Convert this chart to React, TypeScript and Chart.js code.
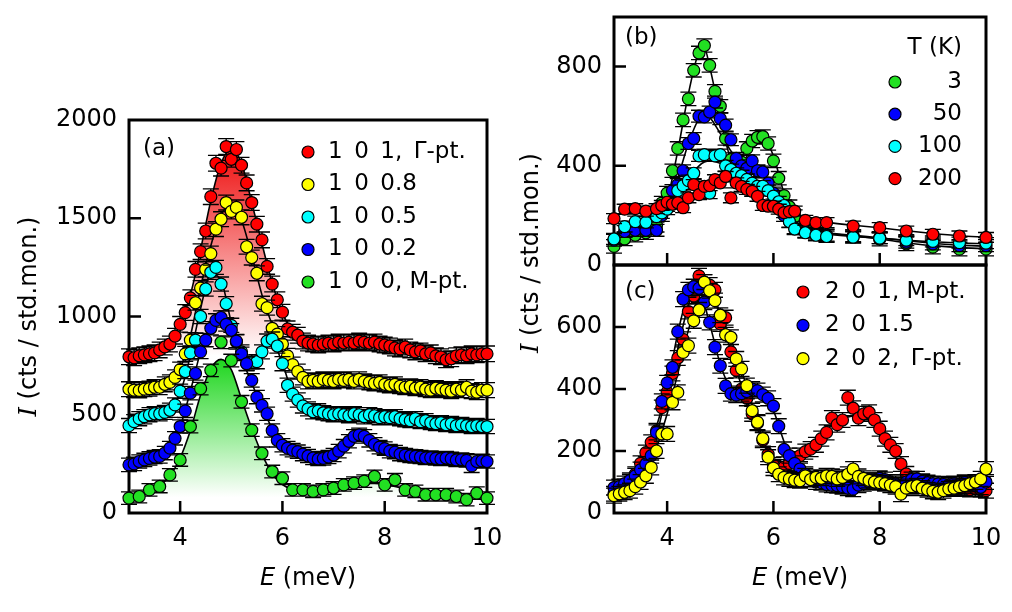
import React, { useEffect, useRef } from 'react';
import { Chart, registerables } from 'chart.js';

Chart.register(...registerables);

const FONT = '"DejaVu Sans", Verdana, sans-serif';
const TICK_FONT = 24;
const TEXT_FONT = 23;
const TITLE_FONT = 24;

// ---------- energy grids (meV) ----------
const E_FINE = [3.0, 3.1, 3.2, 3.3, 3.4, 3.5, 3.6, 3.7, 3.8, 3.9, 4.0, 4.1, 4.2, 4.3, 4.4, 4.5, 4.6, 4.7, 4.8, 4.9,
  5.0, 5.1, 5.2, 5.3, 5.4, 5.5, 5.6, 5.7, 5.8, 5.9, 6.0, 6.1, 6.2, 6.3, 6.4, 6.5, 6.6, 6.7, 6.8, 6.9,
  7.0, 7.1, 7.2, 7.3, 7.4, 7.5, 7.6, 7.7, 7.8, 7.9, 8.0, 8.1, 8.2, 8.3, 8.4, 8.5, 8.6, 8.7, 8.8, 8.9,
  9.0, 9.1, 9.2, 9.3, 9.4, 9.5, 9.6, 9.7, 9.8, 9.9, 10.0];
const E_COARSE = [3.0, 3.2, 3.4, 3.6, 3.8, 4.0, 4.2, 4.4, 4.6, 4.8, 5.0, 5.2, 5.4, 5.6, 5.8, 6.0, 6.2, 6.4, 6.6, 6.8,
  7.0, 7.2, 7.4, 7.6, 7.8, 8.0, 8.2, 8.4, 8.6, 8.8, 9.0, 9.2, 9.4, 9.6, 9.8, 10.0];
const E_TEMP = [3.0, 3.2, 3.4, 3.6, 3.8, 3.9, 4.0, 4.1, 4.2, 4.3, 4.4, 4.5, 4.6, 4.7, 4.8, 4.9, 5.0, 5.1, 5.2, 5.3,
  5.4, 5.5, 5.6, 5.7, 5.8, 5.9, 6.0, 6.1, 6.2, 6.3, 6.4, 6.6, 6.8, 7.0, 7.5, 8.0, 8.5, 9.0, 9.5, 10.0];
const E_TEMP_FIT = [3.0, 3.5, 3.8, 4.0, 4.2, 4.4, 4.6, 4.7, 4.8, 5.0, 5.2, 5.4, 5.6, 5.8, 6.0, 6.2, 6.4, 6.6, 7.0,
  7.5, 8.0, 8.5, 9.0, 9.5, 10.0];

const X_TICKS = [4, 6, 8, 10];

// ---------- panel (a): (1 0 L) scans ----------
const A_Y_TICKS = [0, 500, 1000, 1500, 2000];
const A_LABELS = ['1\u20020\u20021,\u2002Γ-pt.', '1\u20020\u20020.8', '1\u20020\u20020.5', '1\u20020\u20020.2', '1\u20020\u20020, M-pt.'];
const A_COLORS = ['#ff0000', '#ffff00', '#00ffff', '#0000ff', '#22e022'];
const A_ERR = [40, 38, 36, 34, 32];

const A_L10 = [795, 790, 800, 805, 810, 815, 830, 845, 860, 900, 960, 1020, 1095, 1240, 1330, 1435, 1610, 1780, 1755, 1865,
  1800, 1850, 1770, 1680, 1580, 1470, 1390, 1255, 1165, 1085, 1022, 937, 920, 905, 875, 865, 860, 855, 860, 865,
  860, 870, 865, 870, 865, 875, 870, 865, 870, 860, 855, 850, 840, 835, 845, 830, 820, 825, 810, 815,
  800, 795, 780, 785, 800, 805, 800, 810, 805, 810, 810];
const A_L08 = [630, 625, 624, 630, 633, 640, 640, 655, 665, 690, 730, 810, 880, 1070, 1145, 1240, 1320, 1445, 1495, 1580,
  1535, 1555, 1505, 1355, 1300, 1220, 1065, 1045, 940, 910, 860, 800, 755, 720, 690, 670, 675, 670, 680, 675,
  670, 680, 675, 680, 670, 680, 670, 665, 660, 665, 655, 650, 655, 645, 640, 645, 635, 640, 630, 625,
  635, 630, 625, 620, 630, 625, 640, 620, 615, 625, 625];
const A_L05 = [445, 465, 480, 490, 500, 505, 505, 512, 523, 550, 620, 720, 815, 880, 1000, 1140, 1225, 1250, 1165, 1065,
  955, 870, 820, 760, 768, 770, 820, 875, 885, 850, 760, 650, 605, 575, 545, 530, 515, 520, 510, 505,
  500, 505, 500, 495, 505, 500, 490, 500, 495, 485, 490, 485, 490, 480, 475, 470, 480, 465, 470, 460,
  455, 460, 450, 455, 445, 450, 445, 440, 445, 440, 440];
const A_L02 = [245, 250, 262, 270, 278, 285, 288, 305, 330, 380, 440, 520, 610, 710, 820, 880, 940, 980, 995, 960,
  930, 875, 810, 760, 675, 590, 548, 505, 420, 370, 345, 330, 320, 312, 300, 290, 280, 275, 278, 285,
  295, 315, 340, 365, 390, 398, 390, 370, 350, 335, 328, 315, 310, 300, 295, 290, 288, 285, 280, 282,
  278, 275, 280, 276, 270, 272, 268, 240, 262, 265, 262];
const A_L00 = [76, 84, 118, 135, 194, 270, 440, 633, 726, 869, 776, 566, 422, 304, 211, 177, 118, 118, 110, 118,
  127, 143, 152, 162, 186, 143, 169, 118, 110, 93, 93, 93, 84, 68, 101, 76];

const A_FIT_L10 = [795, 800, 810, 828, 868, 960, 1110, 1340, 1590, 1780, 1850, 1780, 1580, 1370, 1170, 1020, 920, 878, 866, 864,
  864, 866, 868, 868, 864, 856, 845, 835, 824, 814, 806, 800, 798, 800, 803, 806];
const A_FIT_L08 = [628, 628, 632, 642, 668, 735, 900, 1150, 1360, 1520, 1560, 1490, 1310, 1110, 960, 860, 770, 705, 680, 675,
  674, 673, 672, 670, 665, 658, 651, 644, 638, 633, 630, 627, 625, 624, 623, 623];
const A_FIT_L05 = [450, 475, 495, 508, 530, 610, 800, 1040, 1215, 1185, 970, 820, 770, 815, 870, 760, 610, 550, 520, 510,
  505, 502, 500, 497, 493, 488, 483, 477, 471, 465, 459, 454, 449, 445, 442, 440];
const A_FIT_L02 = [245, 258, 272, 292, 335, 440, 620, 820, 950, 985, 920, 790, 660, 540, 430, 355, 315, 295, 283, 285,
  305, 345, 390, 392, 355, 325, 305, 295, 288, 283, 279, 276, 273, 270, 267, 265];
const A_FIT_L00 = [72, 90, 110, 140, 190, 280, 420, 600, 735, 782, 730, 580, 430, 300, 200, 145, 120, 115, 115, 118,
  125, 135, 145, 150, 150, 145, 135, 120, 108, 98, 92, 88, 84, 80, 78, 76];

// shaded peak components: intensity at full colour (from) fading to white (to)
const A_RED_SHADE = { base: 790, from: 1850, to: 800, color: 'rgb(238,16,16)' };
const A_GREEN_SHADE = { base: 0, from: 782, to: 80, color: 'rgb(30,214,30)' };

// ---------- panel (b): temperature dependence ----------
const B_Y_TICKS = [0, 400, 800];
const B_LABELS = ['3', '50', '100', '200'];
const B_COLORS = ['#22e022', '#0000ff', '#00ffff', '#ff0000'];
const B_ERR = [27, 24, 22, 20];

const B_T3 = [75, 105, 120, 130, 160, 250, 290, 380, 470, 585, 670, 785, 855, 885, 805, 700, 640, 510, 425, 420,
  415, 470, 500, 515, 518, 490, 420, 350, 280, 235, 195, 150, 125, 118, 115, 104, 85, 72, 64, 64];
const B_T50 = [100, 135, 140, 140, 140, 200, 240, 300, 324, 380, 490, 510, 600, 597, 617, 657, 590, 564, 505, 430,
  400, 390, 420, 380, 375, 330, 290, 240, 200, 175, 150, 135, 125, 120, 118, 110, 92, 85, 78, 78];
const B_T100 = [105, 155, 175, 172, 195, 210, 225, 250, 300, 320, 340, 370, 440, 445, 290, 440, 445, 400, 385, 370,
  360, 345, 330, 318, 318, 300, 278, 255, 240, 175, 145, 130, 120, 115, 112, 108, 100, 95, 90, 88];
const B_T200 = [187, 225, 227, 217, 227, 240, 253, 245, 251, 231, 271, 324, 284, 317, 320, 344, 331, 357, 271, 331,
  317, 305, 297, 277, 240, 237, 237, 225, 211, 215, 217, 180, 171, 171, 157, 151, 137, 124, 117, 111];

const B_FIT_T3 = [75, 125, 150, 260, 460, 690, 860, 875, 800, 600, 430, 410, 480, 510, 440, 290, 200, 160, 130, 118, 105, 90, 78, 70, 66];
const B_FIT_T50 = [95, 135, 150, 230, 350, 490, 590, 605, 595, 530, 460, 410, 395, 360, 290, 210, 165, 145, 130, 120, 110, 98, 88, 80, 76];
const B_FIT_T100 = [100, 165, 190, 230, 290, 350, 400, 415, 420, 410, 385, 360, 335, 310, 275, 225, 175, 145, 125, 115, 108, 100, 94, 89, 86];
const B_FIT_T200 = [200, 220, 228, 235, 250, 275, 300, 312, 325, 340, 335, 320, 295, 265, 240, 215, 198, 185, 172, 160, 150, 138, 127, 118, 112];

// ---------- panel (c): (2 0 L) scans ----------
const C_Y_TICKS = [0, 200, 400, 600];
const C_LABELS = ['2\u20020\u20021, M-pt.', '2\u20020\u20021.5', '2\u20020\u20022,\u2002Γ-pt.'];
const C_COLORS = ['#ff0000', '#0000ff', '#ffff00'];
const C_ERR = [24, 24, 24];

const C_L10 = [62, 72, 85, 100, 125, 160, 195, 228, 265, 340, 390, 450, 500, 560, 650, 700, 765, 745, 735, 720,
  610, 630, 520, 460, 400, 370, 320, 290, 235, 190, 155, 142, 148, 160, 174, 185, 198, 206, 220, 240,
  260, 306, 285, 300, 372, 338, 306, 320, 325, 300, 272, 240, 220, 200, 158, 126, 110, 95, 90, 88,
  85, 82, 86, 80, 82, 78, 80, 76, 78, 75, 72];
const C_L15 = [82, 85, 95, 105, 120, 140, 158, 185, 260, 360, 420, 470, 585, 690, 720, 730, 725, 680, 615, 535,
  475, 410, 385, 380, 385, 392, 400, 395, 382, 370, 345, 280, 205, 185, 160, 142, 125, 110, 100, 98,
  92, 90, 88, 85, 80, 77, 90, 95, 100, 105, 112, 108, 100, 95, 90, 100, 108, 110, 102, 98,
  95, 94, 92, 90, 95, 92, 99, 95, 88, 83, 100];
const C_L20 = [56, 62, 67, 72, 85, 100, 120, 147, 200, 255, 255, 357, 389, 518, 540, 620, 655, 745, 717, 685,
  638, 575, 567, 497, 465, 411, 330, 293, 240, 180, 145, 125, 115, 110, 106, 104, 120, 108, 115, 112,
  120, 118, 110, 115, 125, 142, 118, 112, 105, 100, 98, 95, 90, 85, 61, 80, 85, 88, 80, 75,
  70, 67, 72, 78, 80, 85, 88, 95, 100, 110, 142];

const C_FIT_L10 = [62, 82, 120, 190, 280, 400, 530, 670, 735, 730, 640, 520, 410, 320, 230, 170, 150, 170, 200, 235,
  270, 295, 310, 315, 300, 265, 210, 150, 110, 92, 86, 82, 80, 78, 76, 75];
const C_FIT_L15 = [75, 92, 120, 165, 250, 400, 580, 700, 715, 610, 480, 400, 385, 390, 380, 330, 230, 155, 115, 100,
  94, 92, 92, 93, 95, 97, 98, 97, 95, 94, 93, 92, 92, 92, 92, 93];
const C_FIT_L20 = [58, 72, 95, 130, 210, 320, 450, 590, 690, 700, 640, 560, 460, 350, 240, 165, 125, 110, 106, 104,
  103, 102, 100, 98, 95, 92, 89, 86, 84, 82, 80, 80, 80, 80, 80, 80];

// ---------- drawing helpers ----------
type Shade = { base: number; from: number; to: number; color: string };
type Series = {
  label: string; color: string; err: number;
  x: number[]; y: number[]; fitX: number[]; fitY: number[]; shade?: Shade;
};
type Box = { left: number; top: number; right: number; bottom: number };
type Panel = {
  left: number; top: number; w: number; h: number;
  padTop: number; padRight: number; yAxisW: number; xAxisH: number;
  yMax: number; yTicks: number[]; xLabels: boolean;
  series: Series[];
  decorate: (ctx: CanvasRenderingContext2D, a: Box, p: Panel) => void;
};

const CAP = 8;
const TICK_LEN = 12;
const MARK_R = 6;

function marker(ctx: CanvasRenderingContext2D, x: number, y: number, color: string) {
  ctx.beginPath();
  ctx.arc(x, y, MARK_R, 0, Math.PI * 2);
  ctx.fillStyle = color;
  ctx.fill();
  ctx.lineWidth = 1.2;
  ctx.strokeStyle = '#000';
  ctx.stroke();
}

function text(ctx: CanvasRenderingContext2D, s: string, x: number, y: number, align: CanvasTextAlign = 'left', size = TEXT_FONT) {
  ctx.font = `${size}px ${FONT}`;
  ctx.fillStyle = '#000';
  ctx.textAlign = align;
  ctx.textBaseline = 'middle';
  ctx.fillText(s, x, y);
}

// axis title: italic symbol followed by upright text, centred on (x, y)
function axisTitle(ctx: CanvasRenderingContext2D, sym: string, symFont: string, rest: string, x: number, y: number, vertical: boolean) {
  const restFont = `${TITLE_FONT}px ${FONT}`;
  ctx.save();
  ctx.translate(x, y);
  if (vertical) ctx.rotate(-Math.PI / 2);
  ctx.font = symFont;
  const w1 = ctx.measureText(sym).width;
  ctx.font = restFont;
  const w2 = ctx.measureText(rest).width;
  let cx = -(w1 + w2) / 2;
  ctx.fillStyle = '#000';
  ctx.textAlign = 'left';
  ctx.textBaseline = 'middle';
  ctx.font = symFont;
  ctx.fillText(sym, cx, 0);
  cx += w1;
  ctx.font = restFont;
  ctx.fillText(rest, cx, 0);
  ctx.restore();
}

const errorBars = {
  id: 'errorBars',
  beforeDatasetDraw(chart: any, args: any) {
    const ds = chart.data.datasets[args.index];
    if (!ds.errorBar) return;
    const ctx: CanvasRenderingContext2D = chart.ctx;
    const ys = chart.scales.y;
    ctx.save();
    ctx.strokeStyle = '#000';
    ctx.lineWidth = 1.3;
    ctx.beginPath();
    args.meta.data.forEach((el: any, i: number) => {
      const v = ds.data[i].y;
      const px = el.x;
      const t = ys.getPixelForValue(v + ds.errorBar);
      const b = ys.getPixelForValue(v - ds.errorBar);
      ctx.moveTo(px, t); ctx.lineTo(px, b);
      ctx.moveTo(px - CAP, t); ctx.lineTo(px + CAP, t);
      ctx.moveTo(px - CAP, b); ctx.lineTo(px + CAP, b);
    });
    ctx.stroke();
    ctx.restore();
  },
};

function shadeFill(chart: any, s: Shade) {
  if (!chart.chartArea) return 'rgba(0,0,0,0)';
  const y = chart.scales.y;
  const g = chart.ctx.createLinearGradient(0, y.getPixelForValue(s.from), 0, y.getPixelForValue(s.to));
  g.addColorStop(0, s.color);
  g.addColorStop(1, 'rgb(255,255,255)');
  return g;
}

function buildConfig(p: Panel): any {
  const n = p.series.length;
  const datasets: any[] = [];
  p.series.forEach((s, i) => {
    datasets.push({
      type: 'line',
      data: s.fitX.map((x, k) => ({ x, y: s.fitY[k] })),
      borderColor: '#000',
      borderWidth: 1.6,
      pointRadius: 0,
      cubicInterpolationMode: 'monotone',
      fill: s.shade ? { value: s.shade.base } : false,
      backgroundColor: s.shade ? (c: any) => shadeFill(c.chart, s.shade as Shade) : 'rgba(0,0,0,0)',
      order: 100 + n - i,
    });
    datasets.push({
      type: 'line',
      showLine: false,
      data: s.x.map((x, k) => ({ x, y: s.y[k] })),
      pointRadius: MARK_R,
      pointBackgroundColor: s.color,
      pointBorderColor: '#000',
      pointBorderWidth: 1.2,
      errorBar: s.err,
      clip: false,
      order: n - 1 - i,
    });
  });

  const frame = {
    id: 'frame',
    beforeDatasetsDraw(chart: any) {
      const ctx: CanvasRenderingContext2D = chart.ctx;
      const a = chart.chartArea;
      const sx = chart.scales.x;
      const sy = chart.scales.y;
      ctx.save();
      ctx.strokeStyle = '#000';
      ctx.lineWidth = 2.5;
      ctx.beginPath();
      sx.ticks.forEach((t: any) => {
        const px = sx.getPixelForValue(t.value);
        if (px < a.left + 2 || px > a.right - 2) return;
        ctx.moveTo(px, a.bottom); ctx.lineTo(px, a.bottom - TICK_LEN);
      });
      sy.ticks.forEach((t: any) => {
        const py = sy.getPixelForValue(t.value);
        if (py < a.top + 2 || py > a.bottom - 2) return;
        ctx.moveTo(a.left, py); ctx.lineTo(a.left + TICK_LEN, py);
      });
      ctx.stroke();
      ctx.lineWidth = 3;
      ctx.strokeRect(a.left, a.top, a.right - a.left, a.bottom - a.top);
      ctx.restore();
    },
    afterDraw(chart: any) {
      const ctx: CanvasRenderingContext2D = chart.ctx;
      ctx.save();
      p.decorate(ctx, chart.chartArea, p);
      ctx.restore();
    },
  };

  const tickFont = { family: FONT, size: TICK_FONT };
  const plain = (v: any) => String(v);
  return {
    type: 'line',
    data: { datasets },
    plugins: [errorBars, frame],
    options: {
      responsive: false,
      maintainAspectRatio: false,
      animation: false,
      devicePixelRatio: 1,
      events: [],
      layout: { padding: { top: p.padTop, right: p.padRight, left: 0, bottom: 0 } },
      plugins: {
        legend: { display: false },
        tooltip: { enabled: false },
        filler: { drawTime: 'beforeDatasetsDraw' },
      },
      scales: {
        x: {
          type: 'linear', min: 3, max: 10,
          afterBuildTicks: (s: any) => { s.ticks = X_TICKS.map((v) => ({ value: v })); },
          afterFit: (s: any) => { s.height = p.xAxisH; s.paddingLeft = 0; s.paddingRight = 0; },
          grid: { display: false, drawTicks: false },
          border: { display: false },
          ticks: { display: p.xLabels, font: tickFont, color: '#000', padding: 11, maxRotation: 0, autoSkip: false, callback: plain },
        },
        y: {
          type: 'linear', min: 0, max: p.yMax,
          afterBuildTicks: (s: any) => { s.ticks = p.yTicks.map((v) => ({ value: v })); },
          afterFit: (s: any) => { s.width = p.yAxisW; s.paddingTop = 0; s.paddingBottom = 0; },
          grid: { display: false, drawTicks: false },
          border: { display: false },
          ticks: { font: tickFont, color: '#000', padding: 12, autoSkip: false, callback: plain },
        },
      },
    },
  };
}

const ITALIC_SANS = `oblique ${TITLE_FONT}px ${FONT}`;
const ITALIC_SERIF = `italic ${TITLE_FONT}px "DejaVu Serif", "Liberation Serif", serif`;

const panelA: Panel = {
  left: 0, top: 0, w: 505, h: 612,
  padTop: 120, padRight: 18, yAxisW: 129, xAxisH: 99,
  yMax: 2000, yTicks: A_Y_TICKS, xLabels: true,
  series: [
    { label: A_LABELS[0], color: A_COLORS[0], err: A_ERR[0], x: E_FINE, y: A_L10, fitX: E_COARSE, fitY: A_FIT_L10, shade: A_RED_SHADE },
    { label: A_LABELS[1], color: A_COLORS[1], err: A_ERR[1], x: E_FINE, y: A_L08, fitX: E_COARSE, fitY: A_FIT_L08 },
    { label: A_LABELS[2], color: A_COLORS[2], err: A_ERR[2], x: E_FINE, y: A_L05, fitX: E_COARSE, fitY: A_FIT_L05 },
    { label: A_LABELS[3], color: A_COLORS[3], err: A_ERR[3], x: E_FINE, y: A_L02, fitX: E_COARSE, fitY: A_FIT_L02 },
    { label: A_LABELS[4], color: A_COLORS[4], err: A_ERR[4], x: E_COARSE, y: A_L00, fitX: E_COARSE, fitY: A_FIT_L00, shade: A_GREEN_SHADE },
  ],
  decorate(ctx, a, p) {
    text(ctx, '(a)', a.left + 14, a.top + 29);
    p.series.forEach((s, i) => {
      const y = a.top + 32 + i * 32.5;
      marker(ctx, a.left + 179, y, s.color);
      text(ctx, s.label, a.left + 199, y);
    });
    axisTitle(ctx, 'E', ITALIC_SANS, ' (meV)', (a.left + a.right) / 2, a.bottom + 66, false);
    axisTitle(ctx, 'I', ITALIC_SERIF, ' (cts / std.mon.)', 30, (a.top + a.bottom) / 2, true);
  },
};

const panelB: Panel = {
  left: 505, top: 0, w: 507, h: 290,
  padTop: 17, padRight: 26, yAxisW: 109, xAxisH: 25,
  yMax: 1000, yTicks: B_Y_TICKS, xLabels: false,
  series: [
    { label: B_LABELS[0], color: B_COLORS[0], err: B_ERR[0], x: E_TEMP, y: B_T3, fitX: E_TEMP_FIT, fitY: B_FIT_T3 },
    { label: B_LABELS[1], color: B_COLORS[1], err: B_ERR[1], x: E_TEMP, y: B_T50, fitX: E_TEMP_FIT, fitY: B_FIT_T50 },
    { label: B_LABELS[2], color: B_COLORS[2], err: B_ERR[2], x: E_TEMP, y: B_T100, fitX: E_TEMP_FIT, fitY: B_FIT_T100 },
    { label: B_LABELS[3], color: B_COLORS[3], err: B_ERR[3], x: E_TEMP, y: B_T200, fitX: E_TEMP_FIT, fitY: B_FIT_T200 },
  ],
  decorate(ctx, a, p) {
    text(ctx, '(b)', a.left + 11, a.top + 21);
    text(ctx, 'T (K)', a.left + 348, a.top + 31, 'right');
    p.series.forEach((s, i) => {
      const y = a.top + 65 + i * 32.2;
      marker(ctx, a.left + 281, y, s.color);
      text(ctx, s.label, a.left + 348, y, 'right');
    });
  },
};

const panelC: Panel = {
  left: 505, top: 255, w: 507, h: 357,
  padTop: 10, padRight: 26, yAxisW: 109, xAxisH: 99,
  yMax: 800, yTicks: C_Y_TICKS, xLabels: true,
  series: [
    { label: C_LABELS[0], color: C_COLORS[0], err: C_ERR[0], x: E_FINE, y: C_L10, fitX: E_COARSE, fitY: C_FIT_L10 },
    { label: C_LABELS[1], color: C_COLORS[1], err: C_ERR[1], x: E_FINE, y: C_L15, fitX: E_COARSE, fitY: C_FIT_L15 },
    { label: C_LABELS[2], color: C_COLORS[2], err: C_ERR[2], x: E_FINE, y: C_L20, fitX: E_COARSE, fitY: C_FIT_L20 },
  ],
  decorate(ctx, a, p) {
    text(ctx, '(c)', a.left + 11, a.top + 27);
    p.series.forEach((s, i) => {
      const y = a.top + 27 + i * 33.3;
      marker(ctx, a.left + 189, y, s.color);
      text(ctx, s.label, a.left + 211, y);
    });
    axisTitle(ctx, 'E', ITALIC_SANS, ' (meV)', (a.left + a.right) / 2, a.bottom + 66, false);
  },
};

function PanelCanvas({ panel }: { panel: Panel }) {
  const ref = useRef<HTMLCanvasElement>(null);
  useEffect(() => {
    const chart = new Chart(ref.current as HTMLCanvasElement, buildConfig(panel));
    return () => chart.destroy();
  }, [panel]);
  return (
    <canvas
      ref={ref}
      width={panel.w}
      height={panel.h}
      style={{ position: 'absolute', left: panel.left, top: panel.top, width: panel.w, height: panel.h }}
    />
  );
}

export default function App() {
  return (
    <div style={{ position: 'absolute', left: 0, top: 0, width: 1012, height: 612, background: '#fff', overflow: 'hidden' }}>
      <PanelCanvas panel={panelA} />
      <PanelCanvas panel={panelB} />
      <PanelCanvas panel={panelC} />
      <div
        style={{
          position: 'absolute', left: 530, top: 253, transform: 'translate(-50%, -50%) rotate(-90deg)',
          whiteSpace: 'nowrap', font: `${TITLE_FONT}px ${FONT}`, color: '#000', lineHeight: 1,
        }}
      >
        <span style={{ fontFamily: '"DejaVu Serif", "Liberation Serif", serif', fontStyle: 'italic' }}>I</span>
        {' (cts / std.mon.)'}
      </div>
    </div>
  );
}
